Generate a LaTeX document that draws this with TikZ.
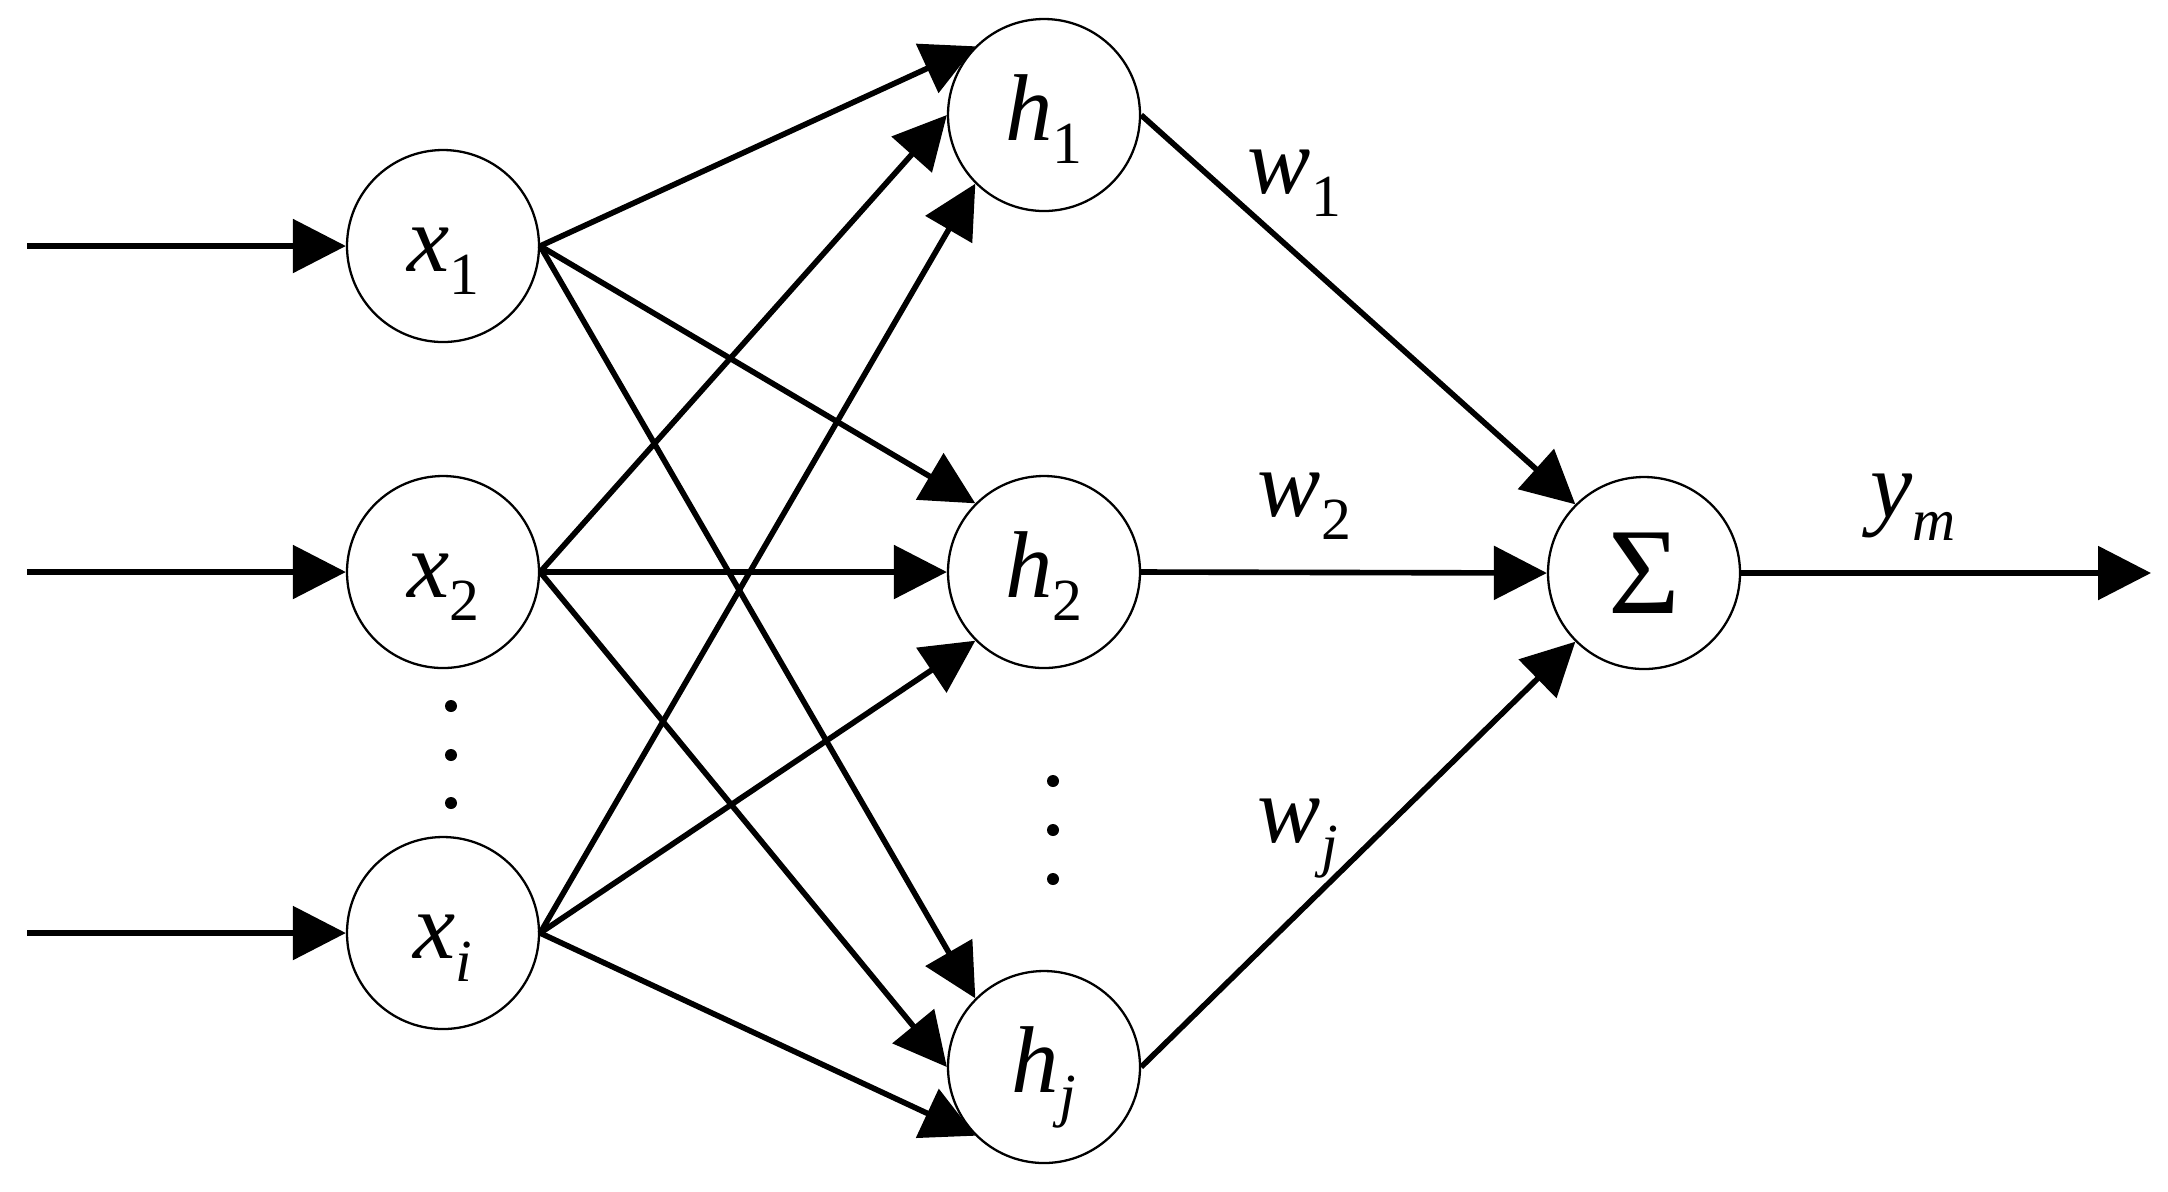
\documentclass[tikz,border=0pt]{standalone}
\usepackage{fontspec}
\setmainfont{Liberation Serif}
\usetikzlibrary{arrows.meta}
\newcommand{\sublab}[2]{#1\raisebox{-0.25em}{\fontsize{17pt}{17pt}\selectfont #2}}
\begin{document}
\begin{tikzpicture}[
  neuron/.style={circle, draw, line width=0.65pt, minimum size=1.92cm, inner sep=0pt},
  conn/.style={line width=1.6pt, -{Triangle[length=0.53cm,width=0.53cm]}},
  txt/.style={font=\fontsize{27pt}{30pt}\selectfont, inner sep=0pt},
  dotmark/.style={fill=black}
]
\useasboundingbox (0,0) rectangle (21.68,-11.91);
% input neurons
\node[neuron] (x1) at (4.43,-2.46) {};
\node[neuron] (x2) at (4.43,-5.72) {};
\node[neuron] (xi) at (4.43,-9.33) {};
% hidden neurons
\node[neuron] (h1) at (10.44,-1.15) {};
\node[neuron] (h2) at (10.44,-5.72) {};
\node[neuron] (hj) at (10.44,-10.67) {};
% sum
\node[neuron, font=\fontsize{35pt}{40pt}\selectfont] (S) at (16.44,-5.73) {Σ};
% labels in neurons
\node[txt, anchor=base] (x1t) at ([yshift=-0.25cm]x1.center) {\sublab{\textit{x}}{1}};
\node[txt, anchor=base] (x2t) at ([yshift=-0.25cm]x2.center) {\sublab{\textit{x}}{2}};
\node[txt, anchor=base] (xit) at ([yshift=-0.25cm]xi.center) {\sublab{\textit{x}}{\textit{i}}};
\node[txt, anchor=base] (h1t) at ([yshift=-0.25cm]h1.center) {\sublab{\textit{h}}{1}};
\node[txt, anchor=base] (h2t) at ([yshift=-0.25cm]h2.center) {\sublab{\textit{h}}{2}};
\node[txt, anchor=base] (hjt) at ([yshift=-0.25cm]hj.center) {\sublab{\textit{h}}{\textit{j}}};
% input arrows
\coordinate (in1) at (0.27,-2.46);
\coordinate (in2) at (0.27,-5.72);
\coordinate (ini) at (0.27,-9.33);
\draw[conn] (in1) -- (x1.west);
\draw[conn] (in2) -- (x2.west);
\draw[conn] (ini) -- (xi.west);
% input to hidden
\draw[conn] (x1.east) -- (h1.135);
\draw[conn] (x1.east) -- (h2.135);
\draw[conn] (x1.east) -- (hj.135);
\draw[conn] (x2.east) -- (h1.west);
\draw[conn] (x2.east) -- (h2.west);
\draw[conn] (x2.east) -- (hj.west);
\draw[conn] (xi.east) -- (h1.225);
\draw[conn] (xi.east) -- (h2.225);
\draw[conn] (xi.east) -- (hj.225);
% hidden to sum
\draw[conn] (h1.east) -- (S.135);
\draw[conn] (h2.east) -- (S.west);
\draw[conn] (hj.east) -- (S.225);
% output
\coordinate (out) at (21.51,-5.73);
\draw[conn] (S.east) -- (out);
% weight labels
\node[txt, anchor=base west] (w1) at (12.47,-1.93) {\sublab{\textit{w}}{1}};
\node[txt, anchor=base west] (w2) at (12.57,-5.16) {\sublab{\textit{w}}{2}};
\node[txt, anchor=base west] (wj) at (12.57,-8.42) {\sublab{\textit{w}}{\textit{j}}};
\node[txt, anchor=base west] (ym) at (18.70,-5.17) {\sublab{\textit{y}}{\textit{m}}};
% dots
\fill[dotmark] (4.51,-7.06) circle (0.06);
\fill[dotmark] (4.51,-7.55) circle (0.06);
\fill[dotmark] (4.51,-8.03) circle (0.06);
\fill[dotmark] (10.53,-7.81) circle (0.06);
\fill[dotmark] (10.53,-8.30) circle (0.06);
\fill[dotmark] (10.53,-8.79) circle (0.06);
\end{tikzpicture}
\end{document}
